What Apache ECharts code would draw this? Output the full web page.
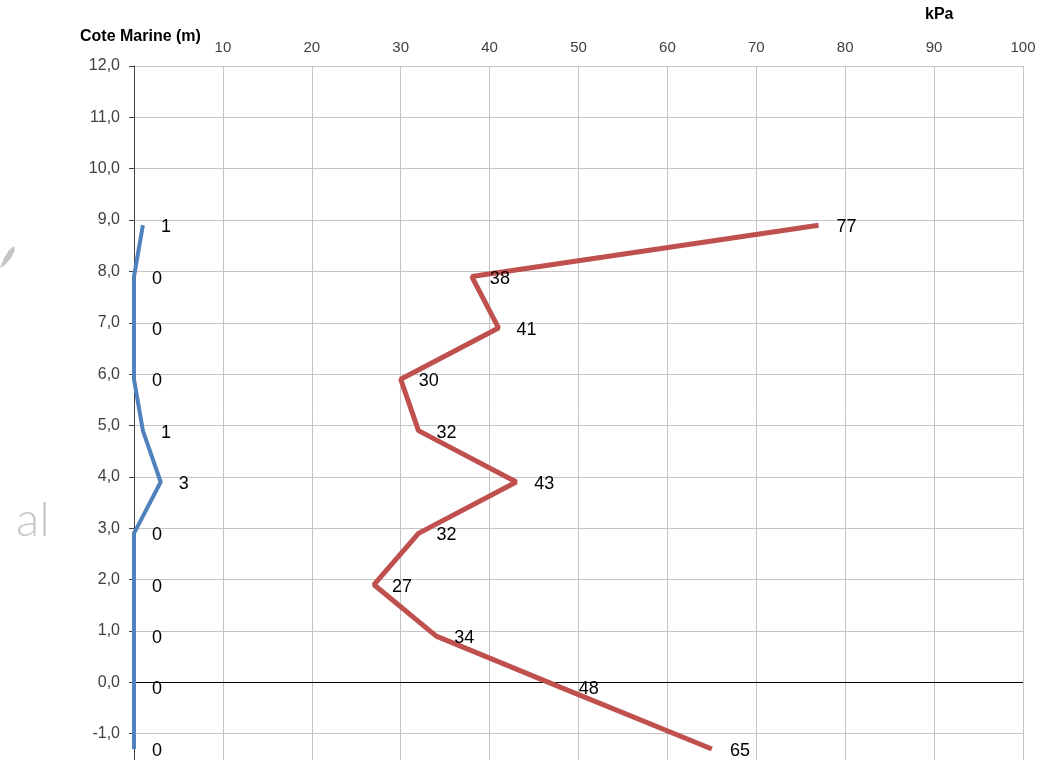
<!DOCTYPE html>
<html>
<head>
<meta charset="utf-8">
<script src="https://cdn.jsdelivr.net/npm/echarts@6/dist/echarts.min.js"></script>
<style>
  html, body { margin: 0; padding: 0; background: #ffffff; overflow: hidden; }
  #chart { width: 1055px; height: 760px; }
</style>
</head>
<body>
<div id="chart"></div>
<script>
// Elevations (m) of each measurement level
const cotes = [8.9, 7.9, 6.9, 5.9, 4.9, 3.9, 2.9, 1.9, 0.9, -0.1, -1.3];
// Pressure profiles (kPa) at each level
const serieBleue = [1, 0, 0, 0, 1, 3, 0, 0, 0, 0, 0];
const serieRouge = [77, 38, 41, 30, 32, 43, 32, 27, 34, 48, 65];
// Axis ranges
const kpaTicks = [0, 10, 20, 30, 40, 50, 60, 70, 80, 90, 100];
const coteMin = -2, coteMax = 12;

const font = 'Liberation Sans, Arial, sans-serif';
const pairs = (vals) => vals.map((v, i) => [v, cotes[i]]);

const labelCfg = {
  show: true,
  position: 'right',
  distance: 18,
  offset: [0, 2],
  color: '#000',
  fontSize: 18,
  fontFamily: font,
  formatter: (p) => String(p.value[0])
};

const chart = echarts.init(document.getElementById('chart'), null, { renderer: 'canvas' });
chart.setOption({
  animation: false,
  backgroundColor: '#ffffff',
  grid: {
    left: 134, width: 889, top: 66, height: 719,
    containLabel: false,
    outerBoundsMode: 'none'
  },
  xAxis: {
    type: 'value',
    position: 'top',
    min: kpaTicks[0],
    max: kpaTicks[kpaTicks.length - 1],
    interval: 10,
    axisLine: { show: false },
    axisTick: { show: false },
    axisLabel: {
      color: '#404040',
      fontSize: 15,
      fontFamily: font,
      margin: 11,
      formatter: (v) => (v === 0 ? '' : String(v))
    },
    splitLine: { show: true, lineStyle: { color: '#c4c4c4', width: 1 } }
  },
  yAxis: {
    type: 'value',
    min: coteMin,
    max: coteMax,
    interval: 1,
    axisLine: { show: true, onZero: false, lineStyle: { color: '#404040', width: 1 } },
    axisTick: { show: true, length: 5, lineStyle: { color: '#404040' } },
    axisLabel: {
      color: '#404040',
      fontSize: 16,
      fontFamily: font,
      margin: 14,
      formatter: (v) => (v < -1.5 ? '' : v.toFixed(1).replace('.', ','))
    },
    splitLine: { show: true, lineStyle: { color: '#c4c4c4', width: 1 } }
  },
  graphic: [
    {
      type: 'text', left: 80, top: 29,
      style: { text: 'Cote Marine (m)', fontSize: 16, fontWeight: 'bold', fontFamily: font, fill: '#000' }
    },
    {
      type: 'text', left: 925, top: 7,
      style: { text: 'kPa', fontSize: 16, fontWeight: 'bold', fontFamily: font, fill: '#000' }
    },
    {
      type: 'text', left: 16, top: 497,
      style: { text: 'al', fontSize: 48, fontWeight: 300, fontFamily: 'Lato, sans-serif', fill: '#c8c8c8' }
    },
    {
      type: 'polygon',
      shape: { points: [[0, 268], [4, 258], [9, 250], [14, 246], [15, 250], [11, 258], [5, 265]] },
      style: { fill: '#c4c4c4' }
    }
  ],
  series: [
    {
      name: 'bleu',
      type: 'line',
      data: pairs(serieBleue),
      clip: false,
      symbol: 'circle',
      symbolSize: 0.1,
      itemStyle: { color: '#4f81bd' },
      lineStyle: { color: '#4f81bd', width: 4 },
      label: labelCfg,
      z: 3
    },
    {
      name: 'rouge',
      type: 'line',
      data: pairs(serieRouge),
      clip: false,
      symbol: 'circle',
      symbolSize: 0.1,
      itemStyle: { color: '#c0504d' },
      lineStyle: { color: '#c0504d', width: 5 },
      label: labelCfg,
      z: 3,
      markLine: {
        silent: true,
        symbol: 'none',
        label: { show: false },
        lineStyle: { color: '#000', width: 1, type: 'solid' },
        data: [{ yAxis: 0 }],
        z: 2
      }
    }
  ]
});
</script>
</body>
</html>
